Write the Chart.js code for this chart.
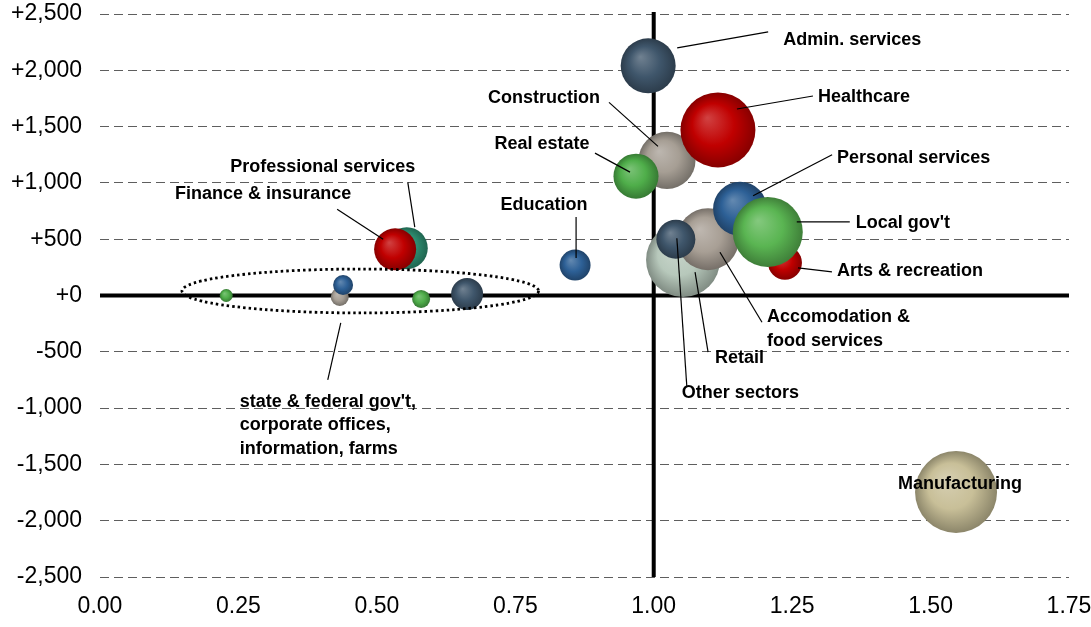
<!DOCTYPE html>
<html>
<head>
<meta charset="utf-8">
<script src="https://cdn.jsdelivr.net/npm/chart.js@4/dist/chart.umd.min.js"></script>
<style>
  html, body { margin: 0; padding: 0; background: #fff; }
  #wrap { width: 1091px; height: 627px; }
</style>
</head>
<body>
<div id="wrap"><canvas id="chart"></canvas></div>
<script>
// listed back to front, so overlapping bubbles stack like the original
const sectors = [
  "(unlabeled)", "Retail", "Accomodation & food services", "Other sectors",
  "Personal services", "Arts & recreation", "Local gov't", "Construction",
  "Real estate", "Healthcare", "Admin. services", "Professional services",
  "Finance & insurance", "Education", "Farms", "Corporate offices",
  "Information", "Federal gov't", "State gov't", "Manufacturing"
];
const locationQuotient = [
  1.024, 1.053, 1.098, 1.040, 1.156, 1.237, 1.206, 1.024, 0.968, 1.116,
  0.990, 0.554, 0.533, 0.858, 0.228, 0.433, 0.439, 0.580, 0.663, 1.546
];
const jobChange = [
  297, 315, 500, 500, 770, 290, 565, 1200, 1060, 1470,
  2040, 420, 410, 270, 0, -13, 93, -31, 13, -1745
];
const employment = [
  214, 810, 569, 225, 431, 171, 725, 481, 300, 832,
  447, 261, 261, 142, 25, 48, 59, 48, 151, 995
];
const sectorColors = [
  "#35597e", "#b7c8bb", "#a89f95", "#3f566b", "#2d6096", "#c00000", "#5ab552",
  "#a69e94", "#4fae4a", "#c00000", "#3f566b", "#2e9072", "#c00000", "#2d6096",
  "#4fae4a", "#a69e94", "#2d6096", "#4fae4a", "#3f566b", "#c8bf98"
];

// label text + leader line, as pixel offsets from the bubble centre
const labelLayout = [
  { sector: "Admin. services", lines: ["Admin. services"], align: "left", dx: 135, dy: -26, from: [29, -18], to: [120, -34] },
  { sector: "Healthcare", lines: ["Healthcare"], align: "left", dx: 100, dy: -33, from: [19, -21], to: [95, -34] },
  { sector: "Construction", lines: ["Construction"], align: "center", dx: -123, dy: -62, from: [-58, -58], to: [-9, -14] },
  { sector: "Real estate", lines: ["Real estate"], align: "center", dx: -94, dy: -32, from: [-41, -23], to: [-6, -4] },
  { sector: "Personal services", lines: ["Personal services"], align: "left", dx: 97, dy: -51, from: [13, -13], to: [92, -54] },
  { sector: "Local gov't", lines: ["Local gov't"], align: "left", dx: 88, dy: -9, from: [29, -10], to: [82, -10] },
  { sector: "Arts & recreation", lines: ["Arts & recreation"], align: "left", dx: 52, dy: 8, from: [13, 5], to: [47, 9] },
  { sector: "Accomodation & food services", lines: ["Accomodation &", "food services"], align: "left", dx: 59, dy: 78, from: [12, 13], to: [54, 83] },
  { sector: "Retail", lines: ["Retail"], align: "left", dx: 32, dy: 98, from: [12, 12], to: [25, 92] },
  { sector: "Other sectors", lines: ["Other sectors"], align: "left", dx: 6, dy: 154, from: [1, -1], to: [11, 148] },
  { sector: "Education", lines: ["Education"], align: "center", dx: -31, dy: -60, from: [1, -48], to: [1, -7] },
  { sector: "Finance & insurance", lines: ["Finance & insurance"], align: "center", dx: -132, dy: -55, from: [-58, -40], to: [-12, -10] },
  { sector: "Professional services", lines: ["Professional services"], align: "center", dx: -84, dy: -81, from: [1, -66], to: [8, -21] },
  { sector: "Corporate offices", lines: ["state & federal gov't,", "corporate offices,", "information, farms"], align: "left", dx: -100, dy: 105, from: [1, 26], to: [-12, 83] },
  { sector: "Manufacturing", lines: ["Manufacturing"], align: "center", dx: 4, dy: -8 }
];

// dotted ring around the small sectors, in data units
const groupRing = { x: 0.47, y: 40, rx: 0.322, ry: 195 };

const yTickValues = [-2500, -2000, -1500, -1000, -500, 0, 500, 1000, 1500, 2000, 2500];

const FONT = "'Liberation Sans', Arial, Helvetica, sans-serif";

function mix(hex, target, amt) {
  const n = parseInt(hex.slice(1), 16);
  const r = (n >> 16) & 255, g = (n >> 8) & 255, b = n & 255;
  const m = c => Math.round(c + (target - c) * amt);
  return "rgb(" + m(r) + "," + m(g) + "," + m(b) + ")";
}

function bubbleFill(context) {
  const chart = context.chart;
  const raw = context.raw;
  if (!raw || !chart.chartArea) return sectorColors[context.dataIndex];
  const cx = chart.scales.x.getPixelForValue(raw.x);
  const cy = chart.scales.y.getPixelForValue(raw.y);
  const r = raw.r;
  const base = sectorColors[context.dataIndex];
  const g = chart.ctx.createRadialGradient(cx - r * 0.28, cy - r * 0.32, r * 0.02, cx, cy, r);
  g.addColorStop(0, mix(base, 255, 0.25));
  g.addColorStop(0.55, base);
  g.addColorStop(1, mix(base, 0, 0.3));
  return g;
}

const points = sectors.map((s, i) => ({
  x: locationQuotient[i],
  y: jobChange[i],
  r: 1.3 * Math.sqrt(employment[i])
}));

const annotate = {
  id: "annotate",
  beforeDatasetsDraw(chart) {
    const { ctx, chartArea: a, scales: { x, y } } = chart;
    const y0 = y.getPixelForValue(0);
    const x1 = x.getPixelForValue(1);
    ctx.save();
    ctx.strokeStyle = "#000";
    ctx.lineWidth = 4;
    ctx.beginPath();
    ctx.moveTo(a.left, y0);
    ctx.lineTo(a.right, y0);
    ctx.moveTo(x1, a.top - 2);
    ctx.lineTo(x1, a.bottom);
    ctx.stroke();
    ctx.restore();
  },
  afterDatasetsDraw(chart) {
    const { ctx, scales: { x, y } } = chart;
    const meta = chart.getDatasetMeta(0);
    ctx.save();

    // ring
    const ex = x.getPixelForValue(groupRing.x);
    const ey = y.getPixelForValue(groupRing.y);
    const erx = Math.abs(x.getPixelForValue(groupRing.x + groupRing.rx) - ex);
    const ery = Math.abs(y.getPixelForValue(groupRing.y + groupRing.ry) - ey);
    ctx.strokeStyle = "#000";
    ctx.lineWidth = 2.8;
    ctx.setLineDash([2.5, 3]);
    ctx.beginPath();
    ctx.ellipse(ex, ey, erx, ery, 0, 0, Math.PI * 2);
    ctx.stroke();
    ctx.setLineDash([]);

    // labels
    ctx.font = "bold 18px " + FONT;
    ctx.fillStyle = "#000";
    ctx.textBaseline = "middle";
    ctx.lineWidth = 1.2;
    labelLayout.forEach(l => {
      const el = meta.data[sectors.indexOf(l.sector)];
      if (!el) return;
      const bx = el.x, by = el.y;
      if (l.from) {
        ctx.beginPath();
        ctx.moveTo(bx + l.from[0], by + l.from[1]);
        ctx.lineTo(bx + l.to[0], by + l.to[1]);
        ctx.stroke();
      }
      ctx.textAlign = l.align;
      l.lines.forEach((t, k) => {
        ctx.fillText(t, bx + l.dx, by + l.dy + k * 23.5);
      });
    });
    ctx.restore();
  }
};

new Chart(document.getElementById("chart"), {
  type: "bubble",
  data: {
    datasets: [{
      data: points,
      backgroundColor: bubbleFill,
      borderWidth: 0,
      hoverBorderWidth: 0,
      clip: false
    }]
  },
  options: {
    responsive: true,
    maintainAspectRatio: false,
    animation: false,
    events: [],
    layout: { autoPadding: false, padding: { top: 14, right: 22, left: 0, bottom: 0 } },
    plugins: { legend: { display: false }, tooltip: { enabled: false } },
    scales: {
      x: {
        type: "linear",
        min: 0,
        max: 1.75,
        grid: { display: false, drawTicks: false },
        border: { display: false },
        ticks: {
          stepSize: 0.25,
          padding: 16,
          color: "#000",
          font: { family: FONT, size: 23 },
          callback: v => v.toFixed(2)
        },
        afterFit: s => {
          s.height = 50;
          s.paddingLeft = 0;
          s.paddingRight = 0;
        }
      },
      y: {
        type: "linear",
        min: -2500,
        max: 2500,
        afterBuildTicks: s => { s.ticks = yTickValues.map(v => ({ value: v })); },
        grid: {
          drawTicks: false,
          lineWidth: 1,
          color: c => (c.tick && c.tick.value === 0) ? "rgba(0,0,0,0)" : "#5e5e5e"
        },
        border: { display: false, dash: [9, 5] },
        ticks: {
          padding: 18,
          color: "#000",
          font: { family: FONT, size: 23 },
          callback: v => v === 0 ? "+0" : (v > 0 ? "+" : "-") + Math.abs(v).toLocaleString("en-US")
        },
        afterFit: s => {
          s.width = 100;
          s.paddingTop = 0;
          s.paddingBottom = 0;
        }
      }
    }
  },
  plugins: [annotate]
});
</script>
</body>
</html>
